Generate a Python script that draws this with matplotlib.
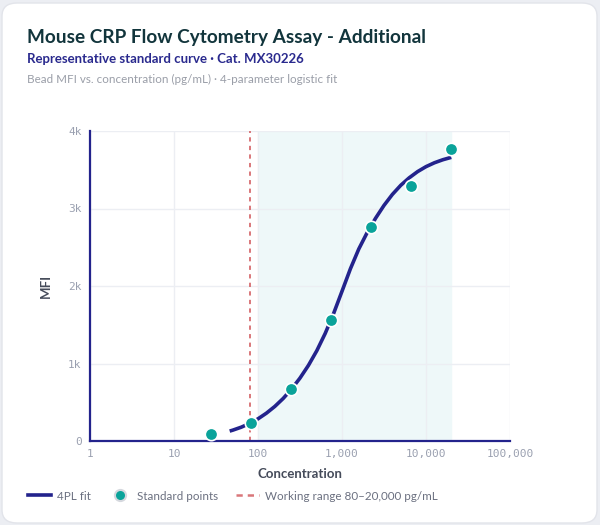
import numpy as np
import matplotlib
matplotlib.use('Agg')
import matplotlib.pyplot as plt
from matplotlib.patches import FancyBboxPatch
from matplotlib.lines import Line2D
from matplotlib.ticker import FixedLocator, FuncFormatter

plt.rcParams['font.family'] = ['Lato', 'DejaVu Sans']

# standard points (3-fold dilution series)
std_conc = [27.4, 82.3, 247, 741, 2222, 6667, 20000]
std_mfi = [90, 236, 667, 1561, 2757, 3290, 3764]

# 4PL fit curve
fit_conc = [46, 50.1, 63.1, 79.4, 100, 125.9, 158.5, 199.5, 251.2, 316.2, 398.1,
            501.2, 631, 794.3, 1000, 1259, 1585, 1995, 2512, 3162, 3981,
            5012, 6310, 7943, 10000, 12589, 15849, 20000]
fit_mfi = [128, 140, 178, 226, 286, 359, 446, 549, 671, 812, 975,
           1165, 1388, 1645, 1932, 2222, 2478, 2690, 2875, 3040, 3182,
           3300, 3396, 3476, 3540, 3590, 3629, 3660]

work_lo = 80
shade_lo, shade_hi = 100, 20000

x_ticks = [1, 10, 100, 1000, 10000, 100000]
y_ticks = [0, 1000, 2000, 3000, 4000]
y_labels = ['0', '1k', '2k', '3k', '4k']

navy = '#23238c'
teal = '#0aa39a'
red = '#d9777a'
tick_col = '#9aa0b0'

fig = plt.figure(figsize=(6, 5.25), dpi=100)
fig.patch.set_facecolor('#eceef3')

card = FancyBboxPatch((2 / 600, 2 / 525), 595 / 600, 520 / 525,
                      boxstyle='round,pad=0,rounding_size=0.025',
                      transform=fig.transFigure, facecolor='white',
                      edgecolor='#e2e4ea', lw=1, zorder=-5)
fig.patches.append(card)

ax = fig.add_axes([90 / 600, 1 - 441 / 525, 420 / 600, 310 / 525])
ax.set_facecolor('none')
ax.set_xscale('log')
ax.set_xlim(1, 100000)
ax.set_ylim(0, 4000)

ax.axvspan(shade_lo, shade_hi, color='#eef8f9', zorder=0)
ax.axvline(work_lo, color=red, ls=(0, (2.2, 2.2)), lw=1.4, zorder=2)

ax.plot(fit_conc, fit_mfi, color=navy, lw=2.6, solid_capstyle='butt',
        solid_joinstyle='round', zorder=3)
ax.scatter(std_conc, std_mfi, s=80, color=teal, edgecolor='white', lw=1.2, zorder=4)

ax.xaxis.set_major_locator(FixedLocator(x_ticks))
ax.xaxis.set_minor_locator(FixedLocator([]))
ax.xaxis.set_major_formatter(FuncFormatter(lambda v, p: f'{int(round(v)):,}'))
ax.yaxis.set_major_locator(FixedLocator(y_ticks))
ax.set_yticklabels(y_labels)

ax.grid(True, color='#eceef3', lw=1, zorder=0)
ax.set_axisbelow(True)
for s in ['top', 'right']:
    ax.spines[s].set_visible(False)
for s in ['left', 'bottom']:
    ax.spines[s].set_color(navy)
    ax.spines[s].set_linewidth(1.6)

ax.tick_params(axis='both', length=0, pad=6, labelcolor=tick_col)
for lab in ax.get_xticklabels() + ax.get_yticklabels():
    lab.set_family('DejaVu Sans Mono')
    lab.set_fontsize(8)

ax.set_xlabel('Concentration', fontsize=9.5, fontweight='bold', color='#454b5a', labelpad=6)
ax.set_ylabel('MFI', fontsize=9.5, fontweight='bold', color='#454b5a', labelpad=12)

fig.text(27 / 600, 1 - 37 / 525, 'Mouse CRP Flow Cytometry Assay - Additional',
         fontsize=13.7, fontweight='bold', color='#12353c', va='center')
fig.text(27 / 600, 1 - 59 / 525, 'Representative standard curve · Cat. MX30226',
         fontsize=9.5, fontweight='bold', color='#2a2a8e', va='center')
fig.text(27 / 600, 1 - 79 / 525, 'Bead MFI vs. concentration (pg/mL) · 4-parameter logistic fit',
         fontsize=8.4, color='#9a9ea8', va='center')

handles = [
    Line2D([], [], color=navy, lw=2.6),
    Line2D([], [], ls='none', marker='o', ms=8, mfc=teal, mec='#d5d8de', mew=1.5),
    Line2D([], [], color=red, lw=1.8, ls=(0, (2.5, 2))),
]
labels = ['4PL fit', 'Standard points', 'Working range 80–20,000 pg/mL']
fig.legend(handles, labels, loc='center left', bbox_to_anchor=(17 / 600, 1 - 496 / 525),
           ncol=3, frameon=False, fontsize=8.4, labelcolor='#6b7080',
           handlelength=2.0, handletextpad=0.5, columnspacing=1.5)

fig.savefig('out.png', dpi=100, facecolor=fig.get_facecolor())
